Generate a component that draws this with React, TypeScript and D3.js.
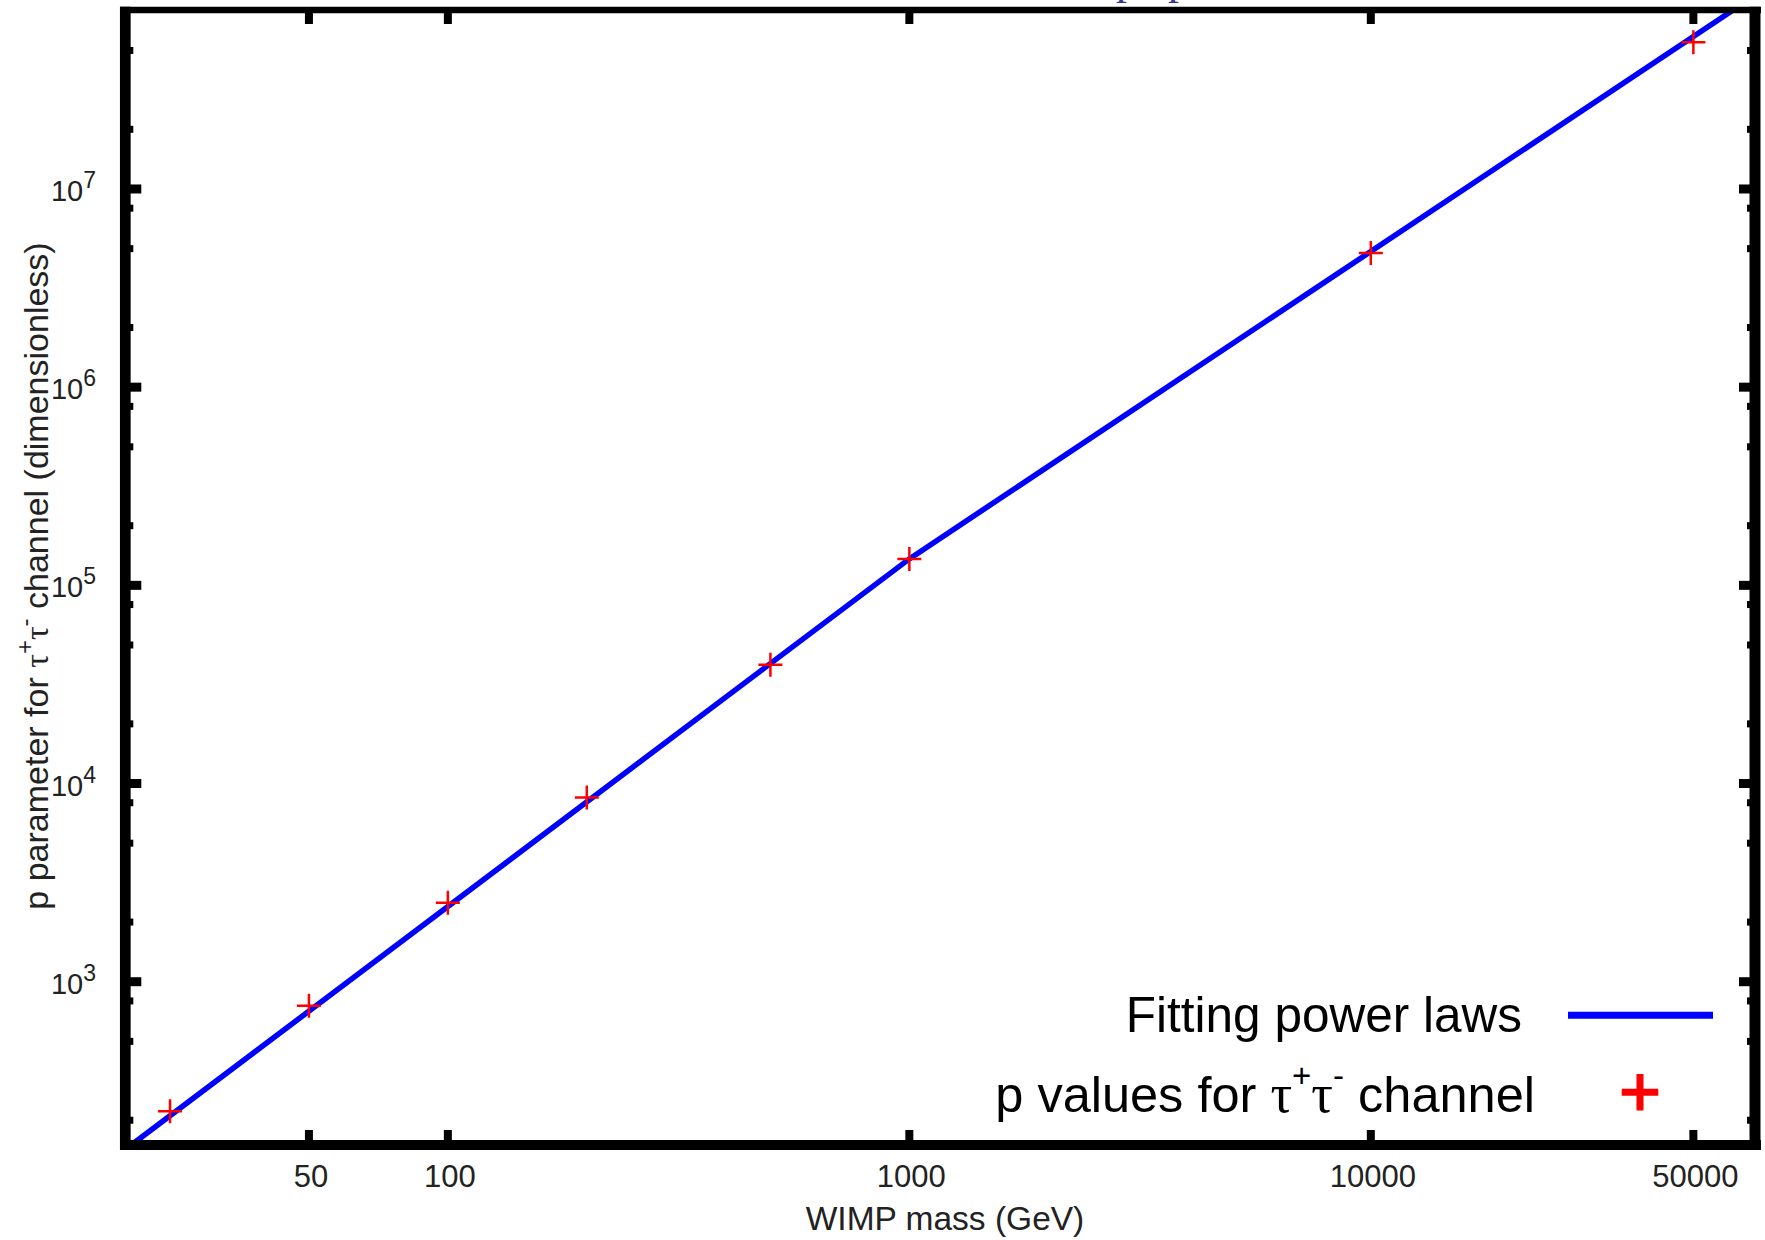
import React, { useEffect } from 'react';
import * as d3 from 'd3';

// ---- data ----
const massData = [25, 50, 100, 200, 500, 1000, 10000, 50000];
const pData = [222, 757, 2500, 8500, 39700, 136000, 4750000, 55000000];
// fitted piecewise power law (vertices)
const fitMass = [20.6, 1000, 61000];
const fitP = [150, 136000, 80000000];
const xTicks = [50, 100, 1000, 10000, 50000];
const yMajorExp = [3, 4, 5, 6, 7];
const yMinorMult = [2, 5, 8];
const xDomain = [20, 68000];
const yDomain = [150, 8e7];

const W = 1765;
const H = 1240;
const L = 125.3;
const R = 1755;
const T = 10;
const B = 1145;
const FONT = '"Liberation Sans", Arial, Helvetica, sans-serif';
const SERIF = '"Liberation Serif", "Times New Roman", serif';

export default function App() {
  useEffect(() => {
    document.body.style.margin = '0';
  }, []);

  const x = d3.scaleLog().domain(xDomain).range([L, R]);
  const y = d3.scaleLog().domain(yDomain).range([B, T]);

  const fitPts: [number, number][] = fitMass.map((m, i) => [x(m), y(fitP[i])]);
  const fitPath = d3.line()(fitPts) || '';

  const yMajor = yMajorExp.map((e) => Math.pow(10, e));
  const yMinor: number[] = [];
  for (let e = 2; e <= 7; e++) {
    for (const m of yMinorMult) {
      const v = m * Math.pow(10, e);
      if (v > yDomain[0] && v < yDomain[1]) yMinor.push(v);
    }
  }

  const plus = (cx: number, cy: number, h: number) =>
    `M${cx - h},${cy}H${cx + h}M${cx},${cy - h}V${cy + h}`;

  return (
    <svg
      width={W}
      height={H}
      viewBox={`0 0 ${W} ${H}`}
      style={{ display: 'block', position: 'absolute', left: 0, top: 0, background: '#fff' }}
      fontFamily={FONT}
    >
      <rect x={0} y={0} width={W} height={H} fill="#fff" />
      <defs>
        <clipPath id="plotClip">
          <rect x={L} y={T} width={R - L} height={B - T} />
        </clipPath>
      </defs>

      {/* fragment of the caption above the figure */}
      <text x={1127} y={-6} fontFamily={SERIF} fontSize={44} fill="#333399" textAnchor="middle">p</text>
      <text x={1179} y={-6} fontFamily={SERIF} fontSize={44} fill="#333399" textAnchor="middle">p</text>

      {/* fit line */}
      <path d={fitPath} fill="none" stroke="#0000ff" strokeWidth={5.5} clipPath="url(#plotClip)" />

      {/* data markers */}
      {massData.map((m, i) => (
        <path key={'p' + i} d={plus(x(m), y(pData[i]), 12)} stroke="#ff0000" strokeWidth={2.5} fill="none" />
      ))}

      {/* x ticks (bottom & top) */}
      {xTicks.map((t) => (
        <g key={'xt' + t}>
          <line x1={x(t)} x2={x(t)} y1={B} y2={B - 15} stroke="#000" strokeWidth={8} />
          <line x1={x(t)} x2={x(t)} y1={T} y2={T + 14} stroke="#000" strokeWidth={8} />
          <text x={x(t) + 2} y={1186.5} fontSize={31} textAnchor="middle" fill="#222">{t}</text>
        </g>
      ))}

      {/* y major ticks */}
      {yMajor.map((t, i) => (
        <g key={'ym' + t}>
          <line x1={L} x2={L + 16} y1={y(t)} y2={y(t)} stroke="#000" strokeWidth={9} />
          <line x1={R} x2={R - 16} y1={y(t)} y2={y(t)} stroke="#000" strokeWidth={9} />
          <text x={96} y={y(t) + 12} fontSize={29} textAnchor="end" fill="#222">
            10<tspan fontSize={23} dy={-13}>{yMajorExp[i]}</tspan>
          </text>
        </g>
      ))}
      {/* y minor ticks */}
      {yMinor.map((t) => (
        <g key={'yn' + t}>
          <line x1={L} x2={L + 8} y1={y(t)} y2={y(t)} stroke="#000" strokeWidth={7} />
          <line x1={R} x2={R - 8} y1={y(t)} y2={y(t)} stroke="#000" strokeWidth={7} />
        </g>
      ))}

      {/* border */}
      <line x1={L - 5.3} x2={R + 6} y1={T} y2={T} stroke="#000" strokeWidth={6.6} />
      <line x1={L - 5.3} x2={R + 6} y1={B} y2={B} stroke="#000" strokeWidth={10} />
      <line x1={L} x2={L} y1={T - 3.3} y2={B + 5} stroke="#000" strokeWidth={10.7} />
      <line x1={R} x2={R} y1={T - 3.3} y2={B + 5} stroke="#000" strokeWidth={11} />

      {/* axis labels */}
      <text x={945} y={1230} fontSize={33.5} textAnchor="middle" fill="#222">WIMP mass (GeV)</text>
      <text transform="translate(48,576) rotate(-90)" fontSize={34} textAnchor="middle" fill="#222">
        p parameter for <tspan fontFamily={SERIF}>τ</tspan>
        <tspan fontSize={24} dy={-15}>+</tspan>
        <tspan fontFamily={SERIF} dy={15}>τ</tspan>
        <tspan fontSize={24} dy={-15}>-</tspan>
        <tspan dy={15}> channel (dimensionless)</tspan>
      </text>

      {/* legend */}
      <text x={1522} y={1032} fontSize={49.5} textAnchor="end" fill="#000">Fitting power laws</text>
      <line x1={1568} x2={1713} y1={1015.3} y2={1015.3} stroke="#0000ff" strokeWidth={7} />
      <text x={1535} y={1111.5} fontSize={50.5} textAnchor="end" fill="#000">
        p values for <tspan fontFamily={SERIF} fontSize={54}>τ</tspan>
        <tspan fontSize={33} dy={-25}>+</tspan>
        <tspan fontFamily={SERIF} fontSize={54} dy={25}>τ</tspan>
        <tspan fontSize={33} dy={-25}>-</tspan>
        <tspan dy={25}> channel</tspan>
      </text>
      <path d={plus(1640, 1092.3, 18.3)} stroke="#ff0000" strokeWidth={7} fill="none" />
    </svg>
  );
}
